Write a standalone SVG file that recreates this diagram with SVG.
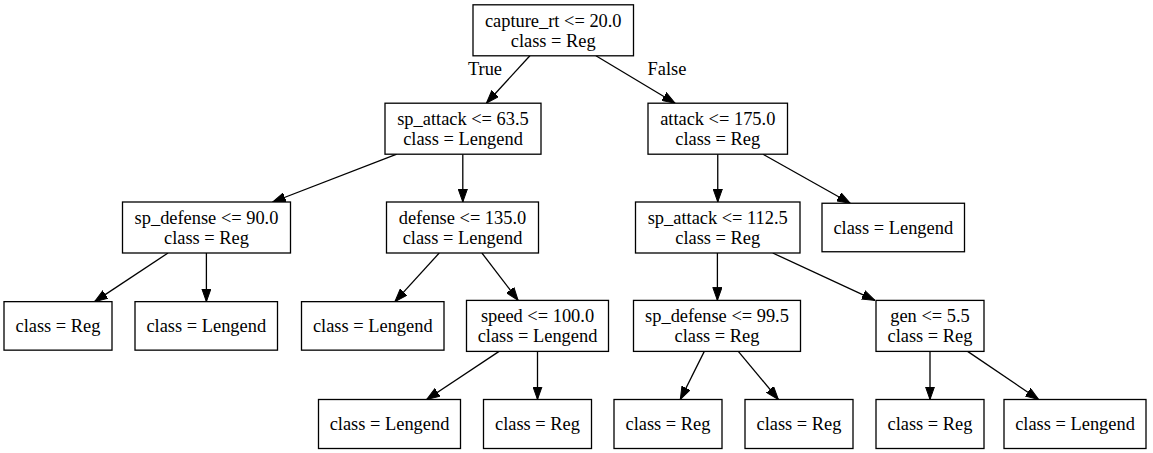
<svg xmlns="http://www.w3.org/2000/svg" width="1153" height="453" viewBox="0 0 1153 453">
<defs>
<marker id="ah" viewBox="0 0 13 10" refX="13" refY="5" markerWidth="13" markerHeight="10" markerUnits="userSpaceOnUse" orient="auto">
<path d="M0,0.4 L13,5 L0,9.6 z" fill="#000" stroke="#000" stroke-width="1"/>
</marker>
<style>
.n{fill:#fff;stroke:#000;stroke-width:1.3}
.t{font-family:"Liberation Serif","Times New Roman",serif;font-size:18.4px;fill:#000;text-anchor:middle}
.e{stroke:#000;stroke-width:1.3;fill:none;marker-end:url(#ah)}
</style>
</defs>
<rect width="1153" height="453" fill="#fff"/>
<g id="edges">
<line class="e" x1="529.9" y1="55.8" x2="486.4" y2="103.2"/>
<line class="e" x1="595.9" y1="55.8" x2="675.1" y2="103.2"/>
<line class="e" x1="396.8" y1="154.2" x2="272.7" y2="202"/>
<line class="e" x1="462.8" y1="154.2" x2="462.8" y2="202"/>
<line class="e" x1="717.75" y1="154.2" x2="717.75" y2="202"/>
<line class="e" x1="763" y1="154.2" x2="850.2" y2="203.25"/>
<line class="e" x1="168" y1="253" x2="94.6" y2="301.65"/>
<line class="e" x1="206.4" y1="253" x2="206.4" y2="301.65"/>
<line class="e" x1="439.25" y1="253" x2="394.9" y2="301.65"/>
<line class="e" x1="481.9" y1="253" x2="518.1" y2="300.4"/>
<line class="e" x1="717.4" y1="253" x2="717.4" y2="300.4"/>
<line class="e" x1="772.75" y1="253" x2="875" y2="300.4"/>
<line class="e" x1="499.1" y1="351.4" x2="426.7" y2="399.5"/>
<line class="e" x1="537.5" y1="351.4" x2="537.5" y2="399.5"/>
<line class="e" x1="704.3" y1="351.4" x2="680.3" y2="399.5"/>
<line class="e" x1="738.3" y1="351.4" x2="778.4" y2="399.5"/>
<line class="e" x1="930" y1="351.4" x2="930" y2="399.5"/>
<line class="e" x1="967.6" y1="351.4" x2="1038.6" y2="399.5"/>
<text class="t" x="485" y="75">True</text>
<text class="t" x="667" y="75">False</text>
</g>
<g id="n0"><rect class="n" x="473" y="4.8" width="160.5" height="51"/><text class="t" x="553.25" y="26.8">capture_rt &lt;= 20.0</text><text class="t" x="553.25" y="46.8">class = Reg</text></g>
<g id="n1"><rect class="n" x="385" y="103.2" width="156" height="51"/><text class="t" x="463" y="125.2">sp_attack &lt;= 63.5</text><text class="t" x="463" y="145.2">class = Lengend</text></g>
<g id="n2"><rect class="n" x="648" y="103.2" width="139.5" height="51"/><text class="t" x="717.75" y="125.2">attack &lt;= 175.0</text><text class="t" x="717.75" y="145.2">class = Reg</text></g>
<g id="n3"><rect class="n" x="122.5" y="202" width="168" height="51"/><text class="t" x="206.5" y="224">sp_defense &lt;= 90.0</text><text class="t" x="206.5" y="244">class = Reg</text></g>
<g id="n4"><rect class="n" x="386.5" y="202" width="152" height="51"/><text class="t" x="462.5" y="224">defense &lt;= 135.0</text><text class="t" x="462.5" y="244">class = Lengend</text></g>
<g id="n5"><rect class="n" x="635.5" y="202" width="164.5" height="51"/><text class="t" x="717.75" y="224">sp_attack &lt;= 112.5</text><text class="t" x="717.75" y="244">class = Reg</text></g>
<g id="n6"><rect class="n" x="822" y="203.25" width="142.5" height="48.5"/><text class="t" x="893.25" y="233.5">class = Lengend</text></g>
<g id="n7"><rect class="n" x="4" y="301.65" width="108" height="48.5"/><text class="t" x="58" y="331.9">class = Reg</text></g>
<g id="n8"><rect class="n" x="135" y="301.65" width="142.5" height="48.5"/><text class="t" x="206.25" y="331.9">class = Lengend</text></g>
<g id="n9"><rect class="n" x="301.5" y="301.65" width="142.5" height="48.5"/><text class="t" x="372.75" y="331.9">class = Lengend</text></g>
<g id="n10"><rect class="n" x="466.5" y="300.4" width="142" height="51"/><text class="t" x="537.5" y="322.4">speed &lt;= 100.0</text><text class="t" x="537.5" y="342.4">class = Lengend</text></g>
<g id="n11"><rect class="n" x="633.5" y="300.4" width="167" height="51"/><text class="t" x="717" y="322.4">sp_defense &lt;= 99.5</text><text class="t" x="717" y="342.4">class = Reg</text></g>
<g id="n12"><rect class="n" x="876" y="300.4" width="108" height="51"/><text class="t" x="930" y="322.4">gen &lt;= 5.5</text><text class="t" x="930" y="342.4">class = Reg</text></g>
<g id="n13"><rect class="n" x="318.5" y="399.5" width="142" height="49"/><text class="t" x="389.5" y="430.2">class = Lengend</text></g>
<g id="n14"><rect class="n" x="483.5" y="399.5" width="108" height="49"/><text class="t" x="537.5" y="430.2">class = Reg</text></g>
<g id="n15"><rect class="n" x="614" y="399.5" width="108" height="49"/><text class="t" x="668" y="430.2">class = Reg</text></g>
<g id="n16"><rect class="n" x="745" y="399.5" width="108" height="49"/><text class="t" x="799" y="430.2">class = Reg</text></g>
<g id="n17"><rect class="n" x="876" y="399.5" width="108" height="49"/><text class="t" x="930" y="430.2">class = Reg</text></g>
<g id="n18"><rect class="n" x="1004" y="399.5" width="142" height="49"/><text class="t" x="1075" y="430.2">class = Lengend</text></g>
</svg>
